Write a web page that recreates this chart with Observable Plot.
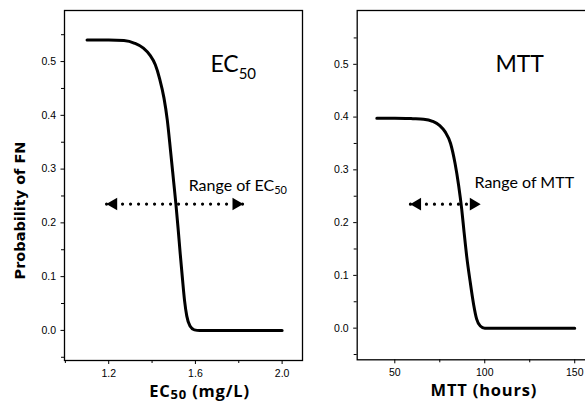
<!DOCTYPE html>
<html>
<head>
<meta charset="utf-8">
<script src="https://cdn.jsdelivr.net/npm/d3@7"></script>
<script src="https://cdn.jsdelivr.net/npm/@observablehq/plot@0.6"></script>
<style>
  html, body { margin: 0; padding: 0; background: #fff; overflow: hidden; }
  #wrap { position: relative; width: 585px; height: 402px; overflow: hidden; background: #fff; }
  .panel { position: absolute; top: 0; }
  .panel svg { max-width: none !important; }
</style>
</head>
<body>
<div id="wrap">
  <div class="panel" id="left" style="left:0px"></div>
  <div class="panel" id="right" style="left:290px"></div>
</div>
<script>
// ---- data ----
const ec50 = [1.10, 1.20, 1.27, 1.32, 1.36, 1.39, 1.415, 1.435, 1.455, 1.47, 1.485, 1.50, 1.51, 1.52, 1.53, 1.54, 1.55, 1.56, 1.575, 1.595, 1.62, 1.70, 1.80, 1.90, 2.00];
const probEC50 = [0.540, 0.540, 0.539, 0.534, 0.525, 0.512, 0.494, 0.468, 0.432, 0.392, 0.335, 0.275, 0.235, 0.190, 0.142, 0.097, 0.055, 0.027, 0.008, 0.001, 0, 0, 0, 0, 0];

const mtt = [40, 50, 60, 66, 71, 75, 78, 81, 83.5, 85.5, 87.2, 88.5, 90, 91.8, 93.8, 95.5, 97.5, 100, 110, 120, 130, 140, 150];
const probMTT = [0.398, 0.398, 0.397, 0.396, 0.392, 0.384, 0.372, 0.350, 0.312, 0.270, 0.225, 0.182, 0.135, 0.090, 0.045, 0.017, 0.004, 0, 0, 0, 0, 0, 0];

const yTicks = [0.0, 0.1, 0.2, 0.3, 0.4, 0.5];
const yMinor = [-0.05, 0.05, 0.15, 0.25, 0.35, 0.45, 0.55];
const ecTicks = [1.2, 1.6, 2.0];
const ecMinor = [1.0, 1.4, 1.8];
const mttTicks = [50, 100, 150];
const mttMinor = [75, 125];

const ecRange = [1.19, 1.82];
const mttRange = [58.7, 97.6];
const rangeProb = 0.235;

const ecTitle = [{text: "EC50", x: 1.669, y: 0.480}];
const ecRangeLabel = [{text: "Range of EC50", x: 1.569, y: 0.260}];
const mttTitle = [{text: "MTT", x: 105.9, y: 0.485}];
const mttRangeLabel = [{text: "Range of MTT", x: 94.3, y: 0.266}];

const yLabel = "Probability of FN";
const ecAxisLabel = "EC50 (mg/L)";
const mttAxisLabel = "MTT (hours)";

// ---- styling ----
const GILL = "Lato, 'Open Sans', sans-serif";
const GILLB = "'Open Sans', Lato, sans-serif";
const ARIAL = "'Liberation Sans', Arial, sans-serif";

function panel({x, p, xDomain, yDomain, xTicks, xMinor, xFormat, range, title, rangeLabel, axisLabel, axisDx, width, marginLeft, marginRight, marginBottom, withYLabel}) {
  const data = x.map((v, i) => ({x: v, p: p[i]}));
  const marks = [
    Plot.frame({stroke: "#000", strokeWidth: 1.3}),
    Plot.axisY(yTicks, {tickSize: 3.5, tickPadding: 5, tickFormat: d3.format(".1f"), fontSize: 10.5, fontFamily: ARIAL, label: null, stroke: "#000"}),
    Plot.axisY(yMinor, {tickSize: 3, tickFormat: () => "", label: null}),
    Plot.axisX(xTicks, {tickSize: 4, tickPadding: 5, tickFormat: xFormat, fontSize: 10.5, fontFamily: ARIAL, label: null}),
    Plot.axisX(xMinor, {tickSize: 3, tickFormat: () => "", label: null}),
    Plot.line(data, {x: "x", y: "p", stroke: "#000", strokeWidth: 3, curve: "monotone-x"}),
    Plot.link([range], {x1: d => d[0], x2: d => d[1], y1: rangeProb, y2: rangeProb, stroke: "#000", strokeWidth: 3.2, strokeDasharray: "0,8", strokeLinecap: "round"}),
    Plot.dot([range[0]], {x: d => d, y: () => rangeProb, symbol: "triangle2", r: 6, rotate: -90, fill: "#000", stroke: "none", dx: 7}),
    Plot.dot([range[1]], {x: d => d, y: () => rangeProb, symbol: "triangle2", r: 6, rotate: 90, fill: "#000", stroke: "none", dx: -7}),
    Plot.text(title, {x: "x", y: "y", text: "text", textAnchor: "start", lineAnchor: "bottom", fontSize: 23, fontFamily: GILL, fill: "#000"}),
    Plot.text(rangeLabel, {x: "x", y: "y", text: "text", textAnchor: "start", lineAnchor: "bottom", fontSize: 16, fontFamily: GILL, fill: "#000"}),
    Plot.text([axisLabel], {frameAnchor: "bottom", textAnchor: "middle", dy: 36, dx: axisDx, fontSize: 16.5, fontWeight: "bold", fontFamily: GILLB, fill: "#000"})
  ];
  if (withYLabel) {
    marks.push(Plot.text([yLabel], {frameAnchor: "left", textAnchor: "middle", rotate: -90, dx: -44, dy: 25, fontSize: 14.5, fontWeight: "bold", fontFamily: "'DejaVu Sans', sans-serif", fill: "#000"}));
  }
  return Plot.plot({
    width, height: 402,
    marginLeft, marginRight, marginTop: 10, marginBottom,
    x: {domain: xDomain},
    y: {domain: yDomain},
    style: {background: "transparent", overflow: "visible"},
    marks
  });
}

const left = panel({
  x: ec50, p: probEC50, xDomain: [0.996, 2.094], yDomain: [-0.056, 0.595],
  xTicks: ecTicks, xMinor: ecMinor, xFormat: d3.format(".1f"),
  range: ecRange, title: ecTitle, rangeLabel: ecRangeLabel,
  axisLabel: ecAxisLabel, axisDx: 16,
  width: 303, marginLeft: 64, marginRight: 1, marginBottom: 42, withYLabel: true
});
const right = panel({
  x: mtt, p: probMTT, xDomain: [29.1, 157.1], yDomain: [-0.060, 0.602],
  xTicks: mttTicks, xMinor: mttMinor, xFormat: d3.format("d"),
  range: mttRange, title: mttTitle, rangeLabel: mttRangeLabel,
  axisLabel: mttAxisLabel, axisDx: 11.5,
  width: 300, marginLeft: 66.7, marginRight: 3, marginBottom: 42.7, withYLabel: false
});
document.getElementById("left").appendChild(left);
document.getElementById("right").appendChild(right);

// subscripts: turn "50" after "EC" into a real subscript tspan
const subSpec = {
  "EC50": {size: 15, shift: 6.5},
  "Range of EC50": {size: 11, shift: 3.5},
  "EC50 (mg/L)": {size: 13, shift: 2}
};
d3.selectAll("#wrap svg text").each(function () {
  const t = this.textContent;
  const spec = subSpec[t];
  if (!spec) return;
  const i = t.indexOf("EC50") + 2;
  const before = t.slice(0, i), after = t.slice(i + 2);
  const sel = d3.select(this);
  sel.text(null);
  sel.append("tspan").text(before);
  sel.append("tspan").attr("font-size", spec.size).attr("dy", spec.shift).text("50");
  if (after) sel.append("tspan").attr("dy", -spec.shift).text(after);
});
d3.selectAll("#wrap svg text").each(function () {
  const t = this.textContent;
  if (t === "EC50 (mg/L)" || t === "MTT (hours)") d3.select(this).attr("letter-spacing", 0.8);
});
</script>
</body>
</html>
